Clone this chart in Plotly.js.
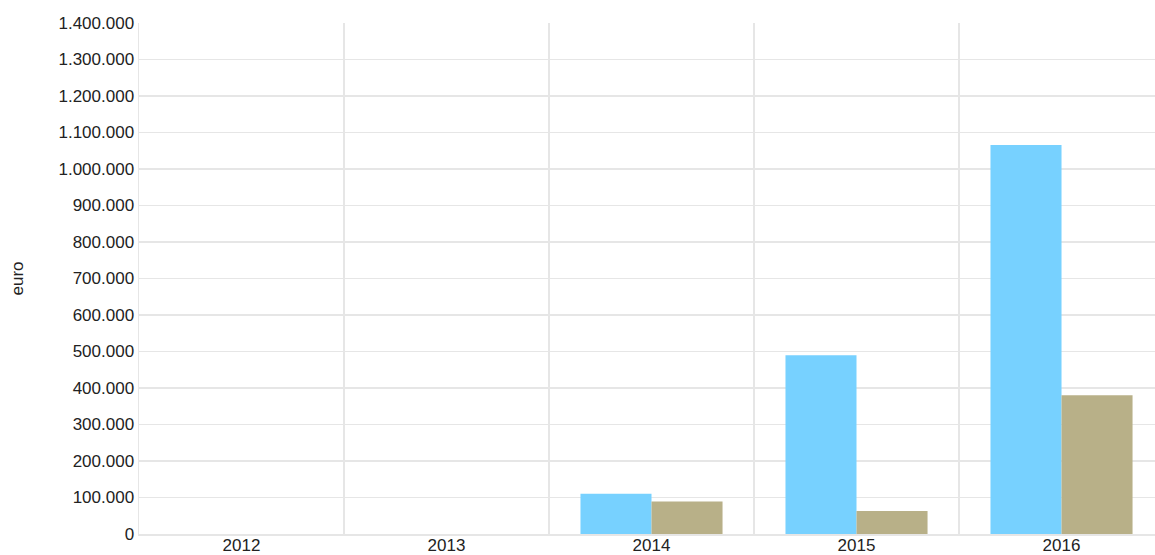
<!DOCTYPE html>
<html>
<head>
<meta charset="utf-8">
<script src="https://cdn.plot.ly/plotly-3.0.1.min.js"></script>
<style>
  html, body { margin: 0; padding: 0; background: #fff; }
  #chart { width: 1155px; height: 555px; }
</style>
</head>
<body>
<div id="chart"></div>
<script>
const years = ["2012", "2013", "2014", "2015", "2016"];
const seriesA = [0, 0, 110000, 490000, 1066000];
const seriesB = [0, 0, 89000, 63000, 380000];
const yTickVals = [0, 100000, 200000, 300000, 400000, 500000, 600000, 700000, 800000, 900000, 1000000, 1100000, 1200000, 1300000, 1400000];
const yTickText = ["0", "100.000", "200.000", "300.000", "400.000", "500.000", "600.000", "700.000", "800.000", "900.000", "1.000.000", "1.100.000", "1.200.000", "1.300.000", "1.400.000"];

const traces = [
  { type: "bar", x: years, y: seriesA, marker: { color: "#77d1ff", line: { width: 0 } }, hoverinfo: "x+y" },
  { type: "bar", x: years, y: seriesB, marker: { color: "#b8b088", line: { width: 0 } }, hoverinfo: "x+y" }
];

const font = { family: "Liberation Sans, Arial, sans-serif", size: 17, color: "#222" };

const layout = {
  width: 1155, height: 555,
  margin: { l: 139, r: 0, t: 23, b: 21, pad: 0 },
  paper_bgcolor: "#fff", plot_bgcolor: "#fff",
  font: font,
  showlegend: false,
  barmode: "group",
  bargap: 0.307,
  bargroupgap: 0,
  xaxis: {
    type: "category",
    range: [-0.5, 4.456],
    tickson: "boundaries",
    ticks: "",
    ticklabelstandoff: -5,
    showgrid: true, gridcolor: "#e6e6e6", gridwidth: 1.5,
    showline: true, linecolor: "#e6e6e6", linewidth: 1.5,
    tickfont: font,
    fixedrange: true
  },
  yaxis: {
    range: [0, 1400000],
    tickvals: yTickVals, ticktext: yTickText,
    ticks: "",
    showgrid: true, gridcolor: "#e6e6e6", gridwidth: 1.5,
    zeroline: false,
    showline: true, linecolor: "#e6e6e6", linewidth: 1.5,
    tickfont: font,
    title: { text: "euro", font: font, standoff: 30 },
    fixedrange: true
  }
};

Plotly.newPlot("chart", traces, layout, { displayModeBar: false, staticPlot: true });
</script>
</body>
</html>
